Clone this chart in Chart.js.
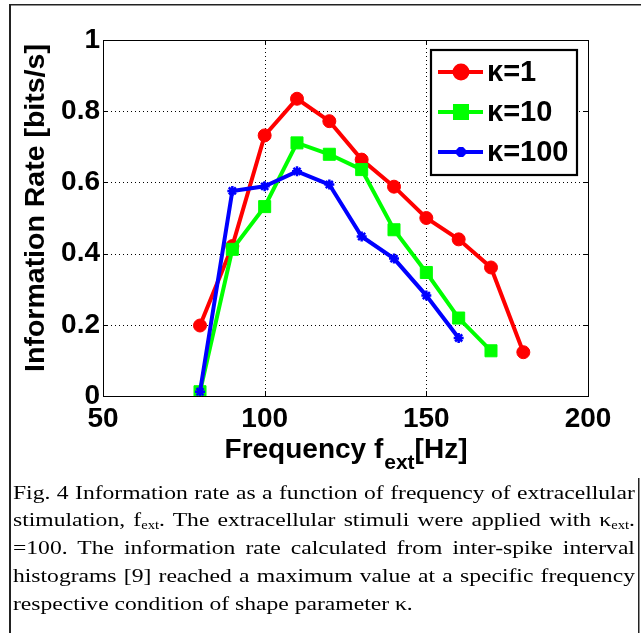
<!DOCTYPE html>
<html><head><meta charset="utf-8">
<script src="https://cdn.jsdelivr.net/npm/chart.js@4.4.1/dist/chart.umd.min.js"></script>
<style>
html,body{margin:0;padding:0;background:#fff;}
#wrap{position:relative;width:641px;height:633px;overflow:hidden;}
#c{position:absolute;left:0;top:0;}
#cap{position:absolute;left:13px;top:478.5px;width:514px;transform:scaleX(1.21);transform-origin:0 0;font-family:'Liberation Serif','Times New Roman',serif;font-size:19.5px;line-height:27.8px;color:#000;}
#cap div{text-align:justify;text-align-last:justify;white-space:normal;height:27.8px;}
#cap div.last{text-align-last:left;}
#cap sub{font-size:0.62em;line-height:0;vertical-align:-0.22em;}
</style></head>
<body>
<div id="wrap">
<canvas id="c" width="641" height="633"></canvas>
<div id="cap">
<div>Fig. 4 Information rate as a function of frequency of extracellular</div>
<div>stimulation, f<sub>ext</sub>. The extracellular stimuli were applied with κ<sub>ext</sub>.</div>
<div>=100. The information rate calculated from inter-spike interval</div>
<div>histograms [9] reached a maximum value at a specific frequency</div>
<div class="last">respective condition of shape parameter κ.</div>
</div>
</div>
<script>
// ---- data ----
const seriesLabels = ['κ=1', 'κ=10', 'κ=100'];
const freqK1   = [80, 90, 100, 110, 120, 130, 140, 150, 160, 170, 180];
const rateK1   = [0.198, 0.421, 0.732, 0.835, 0.772, 0.664, 0.588, 0.500, 0.440, 0.361, 0.123];
const freqK10  = [80, 90, 100, 110, 120, 130, 140, 150, 160, 170];
const rateK10  = [0.012, 0.412, 0.532, 0.711, 0.679, 0.636, 0.467, 0.347, 0.219, 0.127];
const freqK100 = [80, 90, 100, 110, 120, 130, 140, 150, 160];
const rateK100 = [0.012, 0.576, 0.589, 0.631, 0.594, 0.448, 0.386, 0.282, 0.163];
const xTicks = [50, 100, 150, 200];
const yTicks = [0, 0.2, 0.4, 0.6, 0.8, 1];
const xTickLabels = ['50', '100', '150', '200'];
const yTickLabels = ['0', '0.2', '0.4', '0.6', '0.8', '1'];
const yTitle = 'Information Rate [bits/s]';
const xTitleMain = 'Frequency f';
const xTitleSub = 'ext';
const xTitleEnd = '[Hz]';

const pts = (xs, ys) => xs.map((v, i) => ({x: v, y: ys[i]}));
const FONT = "'Liberation Sans', Arial, Helvetica, sans-serif";

const datasets = [
  {label: seriesLabels[0], data: pts(freqK1, rateK1), borderColor: '#ff0000', backgroundColor: '#ff0000',
   pointStyle: 'circle', pointRadius: 6.5, pointBorderWidth: 1, order: 3},
  {label: seriesLabels[1], data: pts(freqK10, rateK10), borderColor: '#00ff00', backgroundColor: '#00ff00',
   pointStyle: 'rect', pointRadius: 8.5, pointBorderWidth: 1, order: 2},
  {label: seriesLabels[2], data: pts(freqK100, rateK100), borderColor: '#0000ff', backgroundColor: '#0000ff',
   pointStyle: 'star', pointRadius: 5, pointBorderWidth: 2.5, order: 1}
].map(d => Object.assign({borderWidth: 4, tension: 0, fill: false, showLine: true,
  pointBackgroundColor: d.backgroundColor, pointBorderColor: d.borderColor, pointHoverRadius: d.pointRadius}, d));

const framePlugin = {
  id: 'frame',
  beforeDatasetsDraw(chart) {
    const {ctx, chartArea: a, scales: {x, y}} = chart;
    ctx.save();
    ctx.strokeStyle = '#000';
    ctx.lineWidth = 1;
    ctx.setLineDash([1, 3]);
    xTicks.forEach(v => {
      if (v <= x.min || v >= x.max) return;
      const px = Math.round(x.getPixelForValue(v)) + 0.5;
      ctx.beginPath(); ctx.moveTo(px, a.top); ctx.lineTo(px, a.bottom); ctx.stroke();
    });
    yTicks.forEach(v => {
      if (v <= y.min || v >= y.max) return;
      const py = Math.round(y.getPixelForValue(v)) + 0.5;
      ctx.beginPath(); ctx.moveTo(a.left, py); ctx.lineTo(a.right, py); ctx.stroke();
    });
    ctx.setLineDash([]);
    const tl = 5;
    xTicks.forEach(v => {
      const px = Math.round(x.getPixelForValue(v)) + 0.5;
      ctx.beginPath(); ctx.moveTo(px, a.bottom); ctx.lineTo(px, a.bottom - tl);
      ctx.moveTo(px, a.top); ctx.lineTo(px, a.top + tl); ctx.stroke();
    });
    yTicks.forEach(v => {
      const py = Math.round(y.getPixelForValue(v)) + 0.5;
      ctx.beginPath(); ctx.moveTo(a.left, py); ctx.lineTo(a.left + tl, py);
      ctx.moveTo(a.right, py); ctx.lineTo(a.right - tl, py); ctx.stroke();
    });
    ctx.strokeRect(Math.round(a.left) + 0.5, Math.round(a.top) + 0.5, Math.round(a.right - a.left), Math.round(a.bottom - a.top));
    ctx.restore();
  },
  afterDraw(chart) {
    const {ctx, chartArea: a} = chart;
    ctx.save();
    // page frame
    ctx.strokeStyle = '#222';
    ctx.lineWidth = 2;
    ctx.beginPath(); ctx.moveTo(10, 4); ctx.lineTo(10, 633); ctx.stroke();
    ctx.lineWidth = 1.5;
    ctx.beginPath(); ctx.moveTo(10, 4.75); ctx.lineTo(641, 4.75); ctx.stroke();
    ctx.beginPath(); ctx.moveTo(638.75, 478); ctx.lineTo(638.75, 633); ctx.stroke();
    // y title
    ctx.fillStyle = '#000';
    ctx.font = 'bold 28.5px ' + FONT;
    ctx.textAlign = 'center';
    ctx.textBaseline = 'middle';
    ctx.save();
    ctx.translate(36, (a.top + a.bottom) / 2 - 10);
    ctx.rotate(-Math.PI / 2);
    ctx.fillText(yTitle, 0, 0);
    ctx.restore();
    // x title with subscript
    ctx.textBaseline = 'alphabetic';
    ctx.textAlign = 'left';
    const mainFont = 'bold 28px ' + FONT, subFont = 'bold 21px ' + FONT;
    ctx.font = mainFont; const w1 = ctx.measureText(xTitleMain).width, w3 = ctx.measureText(xTitleEnd).width;
    ctx.font = subFont; const w2 = ctx.measureText(xTitleSub).width;
    let sx = (a.left + a.right) / 2 - (w1 + w2 + w3) / 2;
    const base = a.bottom + 62;
    ctx.font = mainFont; ctx.fillText(xTitleMain, sx, base); sx += w1 + 1;
    ctx.font = subFont; ctx.fillText(xTitleSub, sx, base + 11); sx += w2;
    ctx.font = mainFont; ctx.fillText(xTitleEnd, sx, base);
    ctx.restore();
  },
  afterDatasetsDraw(chart) {
    const {ctx, chartArea: a} = chart;
    const bx = a.right - 157, by = a.top + 10, bw = 146, bh = 125;
    ctx.save();
    ctx.fillStyle = '#fff';
    ctx.fillRect(bx, by, bw, bh);
    ctx.strokeStyle = '#000'; ctx.lineWidth = 2.2;
    ctx.strokeRect(bx, by, bw, bh);
    chart.data.datasets.forEach((d, i) => {
      const cy = by + 22 + i * 40;
      ctx.strokeStyle = d.borderColor; ctx.lineWidth = 4;
      ctx.beginPath(); ctx.moveTo(bx + 7, cy); ctx.lineTo(bx + 52, cy); ctx.stroke();
      ctx.fillStyle = d.pointBackgroundColor;
      Chart.helpers.drawPoint(ctx, {pointStyle: d.pointStyle, radius: d.pointRadius, borderWidth: d.pointBorderWidth, rotation: 0}, bx + 30, cy);
      ctx.fillStyle = '#000';
      ctx.font = 'bold 29px ' + FONT;
      ctx.textAlign = 'left'; ctx.textBaseline = 'middle';
      ctx.fillText(d.label, bx + 56, cy + 1);
    });
    ctx.restore();
  }
};

new Chart(document.getElementById('c'), {
  type: 'line',
  data: {datasets},
  options: {
    responsive: false,
    animation: false,
    devicePixelRatio: 1,
    layout: {padding: {left: 0, right: 53, top: 40, bottom: 0}},
    plugins: {legend: {display: false}, tooltip: {enabled: false}},
    scales: {
      x: {
        type: 'linear', min: 50, max: 200,
        afterBuildTicks: s => { s.ticks = xTicks.map(v => ({value: v})); },
        ticks: {color: '#000', padding: 6, maxRotation: 0, autoSkip: false,
          font: {family: FONT, size: 28, weight: 'bold'},
          callback: (v) => xTickLabels[xTicks.indexOf(v)]},
        grid: {display: false, drawTicks: false},
        border: {display: false},
        afterFit: s => { s.height = 633 - 396; }
      },
      y: {
        type: 'linear', min: 0, max: 1,
        afterBuildTicks: s => { s.ticks = yTicks.map(v => ({value: v})); },
        ticks: {color: '#000', padding: 3,
          font: {family: FONT, size: 28, weight: 'bold'},
          callback: (v) => yTickLabels[yTicks.findIndex(t => Math.abs(t - v) < 1e-9)]},
        grid: {display: false, drawTicks: false},
        border: {display: false},
        afterFit: s => { s.width = 103; }
      }
    }
  },
  plugins: [framePlugin]
});
</script>
</body></html>
